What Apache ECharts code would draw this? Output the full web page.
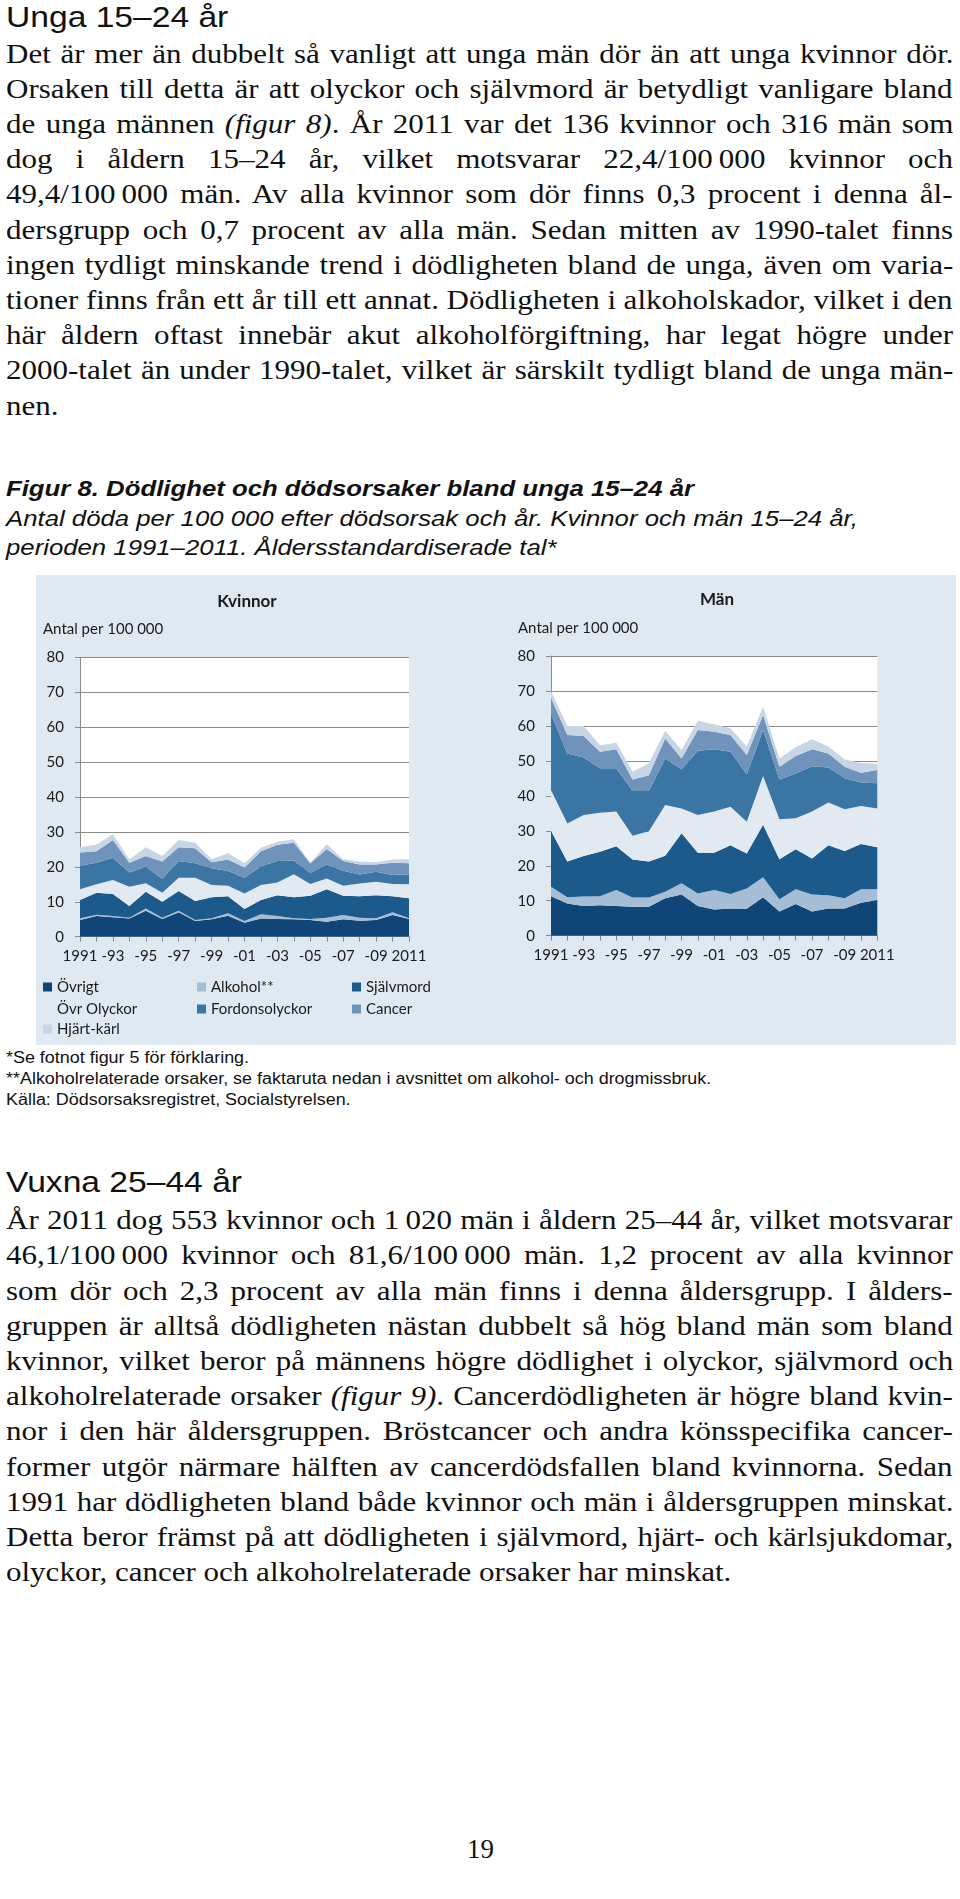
<!DOCTYPE html>
<html>
<head>
<meta charset="utf-8">
<script src="https://cdn.jsdelivr.net/npm/echarts@6/dist/echarts.min.js"></script>
<style>
  html, body { margin: 0; padding: 0; background: #ffffff; }
  body { width: 960px; height: 1899px; position: relative; overflow: hidden; }
  .blk { position: absolute; transform-origin: 0 0; color: #111; }
  .serif { font-family: 'Liberation Serif', 'Times New Roman', serif; }
  .sans { font-family: 'Liberation Sans', Arial, sans-serif; }
  .j, .l { white-space: nowrap; text-align: left; }
  #chart { position: absolute; left: 36px; top: 575px; width: 920px; height: 470px; }
</style>
</head>
<body>

<div class="blk sans" style="left:6px; top:1.6px; font-size:30px; line-height:30px; transform:scaleX(1.12); white-space:nowrap;">Unga 15–24 år</div>

<div class="blk serif para" style="left:6px; top:36.5px; width:809.4px; font-size:26.5px; line-height:35.2px; transform:scaleX(1.17);">
  <div class="j">Det är mer än dubbelt så vanligt att unga män dör än att unga kvinnor dör.</div>
  <div class="j">Orsaken till detta är att olyckor och självmord är betydligt vanligare bland</div>
  <div class="j">de unga männen <i>(figur 8)</i>. År 2011 var det 136 kvinnor och 316 män som</div>
  <div class="j">dog i åldern 15–24 år, vilket motsvarar 22,4/100&#8201;000 kvinnor och</div>
  <div class="j">49,4/100&#8201;000 män. Av alla kvinnor som dör finns 0,3 procent i denna ål-</div>
  <div class="j">dersgrupp och 0,7 procent av alla män. Sedan mitten av 1990-talet finns</div>
  <div class="j">ingen tydligt minskande trend i dödligheten bland de unga, även om varia-</div>
  <div class="j">tioner finns från ett år till ett annat. Dödligheten i alkoholskador, vilket i den</div>
  <div class="j">här åldern oftast innebär akut alkoholförgiftning, har legat högre under</div>
  <div class="j">2000-talet än under 1990-talet, vilket är särskilt tydligt bland de unga män-</div>
  <div class="l">nen.</div>
</div>

<div class="blk sans" style="left:6px; top:474px; font-size:22px; line-height:29.5px; transform:scaleX(1.17); white-space:nowrap;">
  <div style="font-weight:bold; font-style:italic;">Figur 8. Dödlighet och dödsorsaker bland unga 15–24 år</div>
  <div style="font-style:italic;">Antal döda per 100 000 efter dödsorsak och år. Kvinnor och män 15–24 år,</div>
  <div style="font-style:italic;">perioden 1991–2011. Åldersstandardiserade tal*</div>
</div>

<div id="chart"></div>

<div class="blk sans" style="left:6px; top:1047px; font-size:16px; line-height:21px; transform:scaleX(1.12); white-space:nowrap;">
  <div>*Se fotnot figur 5 för förklaring.</div>
  <div>**Alkoholrelaterade orsaker, se faktaruta nedan i avsnittet om alkohol- och drogmissbruk.</div>
  <div>Källa: Dödsorsaksregistret, Socialstyrelsen.</div>
</div>

<div class="blk sans" style="left:6px; top:1166.6px; font-size:30px; line-height:30px; transform:scaleX(1.12); white-space:nowrap;">Vuxna 25–44 år</div>

<div class="blk serif para" style="left:6px; top:1203.2px; width:809.4px; font-size:26.5px; line-height:35.2px; transform:scaleX(1.17);">
  <div class="j">År 2011 dog 553 kvinnor och 1&#8201;020 män i åldern 25–44 år, vilket motsvarar</div>
  <div class="j">46,1/100&#8201;000 kvinnor och 81,6/100&#8201;000 män. 1,2 procent av alla kvinnor</div>
  <div class="j">som dör och 2,3 procent av alla män finns i denna åldersgrupp. I ålders-</div>
  <div class="j">gruppen är alltså dödligheten nästan dubbelt så hög bland män som bland</div>
  <div class="j">kvinnor, vilket beror på männens högre dödlighet i olyckor, självmord och</div>
  <div class="j">alkoholrelaterade orsaker <i>(figur 9)</i>. Cancerdödligheten är högre bland kvin-</div>
  <div class="j">nor i den här åldersgruppen. Bröstcancer och andra könsspecifika cancer-</div>
  <div class="j">former utgör närmare hälften av cancerdödsfallen bland kvinnorna. Sedan</div>
  <div class="j">1991 har dödligheten bland både kvinnor och män i åldersgruppen minskat.</div>
  <div class="j">Detta beror främst på att dödligheten i självmord, hjärt- och kärlsjukdomar,</div>
  <div class="l">olyckor, cancer och alkoholrelaterade orsaker har minskat.</div>
</div>

<div class="blk serif" style="left:467px; top:1836px; font-size:27px; line-height:27px; white-space:nowrap;">19</div>

<script>
// ---- Data ----
const years = ['1991','1992','1993','1994','1995','1996','1997','1998','1999','2000','2001',
               '2002','2003','2004','2005','2006','2007','2008','2009','2010','2011'];
const xTickLabels = ['1991','','-93','','-95','','-97','','-99','','-01','','-03','','-05','','-07','','-09','','2011'];
const yTicks = { min: 0, max: 80, interval: 10 };
const causes = ['Övrigt','Alkohol**','Självmord','Övr Olyckor','Fordonsolyckor','Cancer','Hjärt-kärl'];
const causeColors = ['#0f4677','#a6bdd6','#1c5a8b','#e3e9f1','#3b75a4','#6f93ba','#c8d5e5'];

// Kvinnor (women), per 100 000
const kvOvrigt    = [4.8,5.9,5.6,5.2,7.4,5.1,7.0,4.5,5.0,6.0,4.0,5.2,5.1,5.0,4.8,4.3,5.0,4.6,4.8,6.2,5.1];
const kvAlkohol   = [0.5,0.4,0.3,0.2,0.7,0.3,0.4,0.3,0.3,0.7,0.5,1.2,0.8,0.3,0.3,1.1,1.2,0.8,0.5,0.8,0.2];
const kvSjalvmord = [5.2,6.3,6.3,3.4,4.8,4.6,5.7,5.4,6.0,4.9,3.4,4.1,6.0,6.0,6.6,8.2,5.5,6.2,6.6,4.6,5.7];
const kvOvrOlyckor= [3.1,2.4,4.0,5.5,2.4,2.6,3.8,6.7,3.5,3.0,4.5,4.3,3.6,6.6,3.4,3.1,2.9,3.6,3.8,3.5,4.0];
const kvFordon    = [6.7,6.2,6.4,4.1,4.7,4.0,4.8,4.1,4.8,4.2,4.5,5.4,6.2,3.9,3.2,4.0,4.3,2.6,2.9,2.6,2.9];
const kvCancer    = [3.8,3.3,5.1,2.8,3.1,4.9,3.9,4.3,1.7,3.3,2.9,4.3,4.6,5.1,2.7,4.4,2.8,2.9,2.1,3.5,3.1];
const kvHjart     = [1.5,1.9,1.6,0.9,2.5,1.6,2.1,1.6,0.9,1.8,1.2,1.0,0.9,1.0,0.2,1.4,0.5,0.8,0.6,0.9,1.2];

// Män (men), per 100 000
const mOvrigt     = [11.3,9.2,8.5,8.7,8.5,8.3,8.3,10.7,11.8,8.5,7.5,7.8,7.7,11.0,6.9,9.1,6.9,7.8,7.8,9.4,10.2];
const mAlkohol    = [2.7,1.8,2.7,2.6,4.6,2.6,2.6,1.9,3.2,3.6,5.6,4.1,5.8,5.7,3.5,4.2,4.9,3.8,2.9,3.9,3.1];
const mSjalvmord  = [16.0,10.2,11.6,12.7,12.5,10.9,10.3,10.3,14.3,11.6,10.6,14.0,10.0,15.0,11.5,11.4,10.3,14.3,13.5,12.9,12.0];
const mOvrOlyckor = [11.7,10.9,11.7,11.2,9.9,6.8,8.7,14.5,7.1,10.8,11.8,11.0,9.1,14.0,11.4,8.9,13.4,12.2,12.0,10.9,11.1];
const mFordon     = [21.8,20.0,16.5,12.7,12.4,12.8,11.5,13.3,11.2,18.4,17.8,15.7,13.6,13.1,11.4,12.8,13.0,10.0,8.8,6.7,7.2];
const mCancer     = [4.5,5.3,6.1,4.7,5.4,3.3,4.5,5.7,3.1,5.9,5.0,4.8,5.5,4.3,3.6,5.0,4.8,4.0,3.3,2.8,3.8];
const mHjart      = [2.0,2.6,2.9,1.9,1.9,2.2,3.4,2.2,2.4,2.7,2.2,1.9,2.4,2.4,2.4,2.5,2.9,2.0,2.1,2.8,1.8];

const kvSeries = [kvOvrigt, kvAlkohol, kvSjalvmord, kvOvrOlyckor, kvFordon, kvCancer, kvHjart];
const mSeries  = [mOvrigt, mAlkohol, mSjalvmord, mOvrOlyckor, mFordon, mCancer, mHjart];

// ---- Justify body lines by word spacing (each line fills its block width) ----
function justifyLines() {
  document.querySelectorAll('.para').forEach(p => {
    const target = parseFloat(p.style.width);
    p.querySelectorAll('.j').forEach(line => {
      line.style.wordSpacing = '0px';
      const span = document.createElement('span');
      span.style.display = 'inline-block';
      while (line.firstChild) span.appendChild(line.firstChild);
      line.appendChild(span);
      const natural = span.offsetWidth;
      const gaps = (line.textContent.match(/ /g) || []).length;
      while (span.firstChild) line.insertBefore(span.firstChild, span);
      line.removeChild(span);
      if (gaps > 0) line.style.wordSpacing = ((target - natural) / gaps) + 'px';
    });
  });
}
justifyLines();
if (document.fonts && document.fonts.ready) document.fonts.ready.then(justifyLines);

// ---- Chart ----
const FONT = 'Lato, "Open Sans", sans-serif';
const TXT = '#1a1a1a';
const GRID_GRAY = '#8a8a8a';

function xAxis(idx) {
  return {
    type: 'category', gridIndex: idx, data: years, boundaryGap: false,
    axisLine: { show: true, lineStyle: { color: GRID_GRAY, width: 1 } },
    axisTick: { show: true, interval: 0, length: 5, inside: false, lineStyle: { color: GRID_GRAY } },
    axisLabel: {
      interval: 0, hideOverlap: false, margin: 12,
      fontFamily: FONT, fontSize: 15, color: TXT,
      formatter: (v, i) => xTickLabels[i]
    },
    splitLine: { show: false }
  };
}
function yAxis(idx) {
  return {
    type: 'value', gridIndex: idx, min: yTicks.min, max: yTicks.max, interval: yTicks.interval,
    axisLine: { show: true, lineStyle: { color: GRID_GRAY, width: 1 } },
    axisTick: { show: true, length: 5, lineStyle: { color: GRID_GRAY } },
    axisLabel: { margin: 16, fontFamily: FONT, fontSize: 15, color: TXT },
    splitLine: { show: true, lineStyle: { color: GRID_GRAY, width: 1 } }
  };
}
function buildSeries(list, idx) {
  return list.map((arr, k) => ({
    name: causes[k], type: 'line', xAxisIndex: idx, yAxisIndex: idx,
    stack: 'stack' + idx, data: arr,
    symbol: 'none', showSymbol: false, smooth: false, silent: true,
    lineStyle: { width: 0, color: causeColors[k] },
    itemStyle: { color: causeColors[k] },
    areaStyle: { color: causeColors[k], opacity: 1 },
    emphasis: { disabled: true },
    z: 2
  }));
}

const legendPos = [[7,404],[161,404],[316,404],[7,426],[161,426],[316,426],[7,446]];
const legends = causes.map((c, k) => ({
  data: [c], left: legendPos[k][0], top: legendPos[k][1], padding: 0,
  orient: 'horizontal', icon: 'rect', itemWidth: 9, itemHeight: 9, itemGap: 0,
  selectedMode: false,
  textStyle: { fontFamily: FONT, fontSize: 15, color: TXT, lineHeight: 16 }
}));

const chart = echarts.init(document.getElementById('chart'), null, { renderer: 'canvas' });
chart.setOption({
  animation: false,
  backgroundColor: '#dfe9f2',
  title: [
    { text: 'Kvinnor', left: 211, top: 18, textAlign: 'center', padding: 0,
      textStyle: { fontFamily: FONT, fontWeight: 'bold', fontSize: 17, color: TXT } },
    { text: 'Män', left: 681, top: 16, textAlign: 'center', padding: 0,
      textStyle: { fontFamily: FONT, fontWeight: 'bold', fontSize: 17, color: TXT } },
    { text: 'Antal per 100 000', left: 7, top: 47, padding: 0,
      textStyle: { fontFamily: FONT, fontWeight: 'normal', fontSize: 15, color: TXT } },
    { text: 'Antal per 100 000', left: 482, top: 46, padding: 0,
      textStyle: { fontFamily: FONT, fontWeight: 'normal', fontSize: 15, color: TXT } }
  ],
  legend: legends,
  grid: [
    { left: 44, top: 82.3, width: 329, height: 279.4, show: true, backgroundColor: '#ffffff', borderWidth: 0, containLabel: false, outerBoundsMode: 'none' },
    { left: 515, top: 81, width: 326.3, height: 279.7, show: true, backgroundColor: '#ffffff', borderWidth: 0, containLabel: false, outerBoundsMode: 'none' }
  ],
  xAxis: [xAxis(0), xAxis(1)],
  yAxis: [yAxis(0), yAxis(1)],
  series: buildSeries(kvSeries, 0).concat(buildSeries(mSeries, 1))
});
</script>
</body>
</html>
